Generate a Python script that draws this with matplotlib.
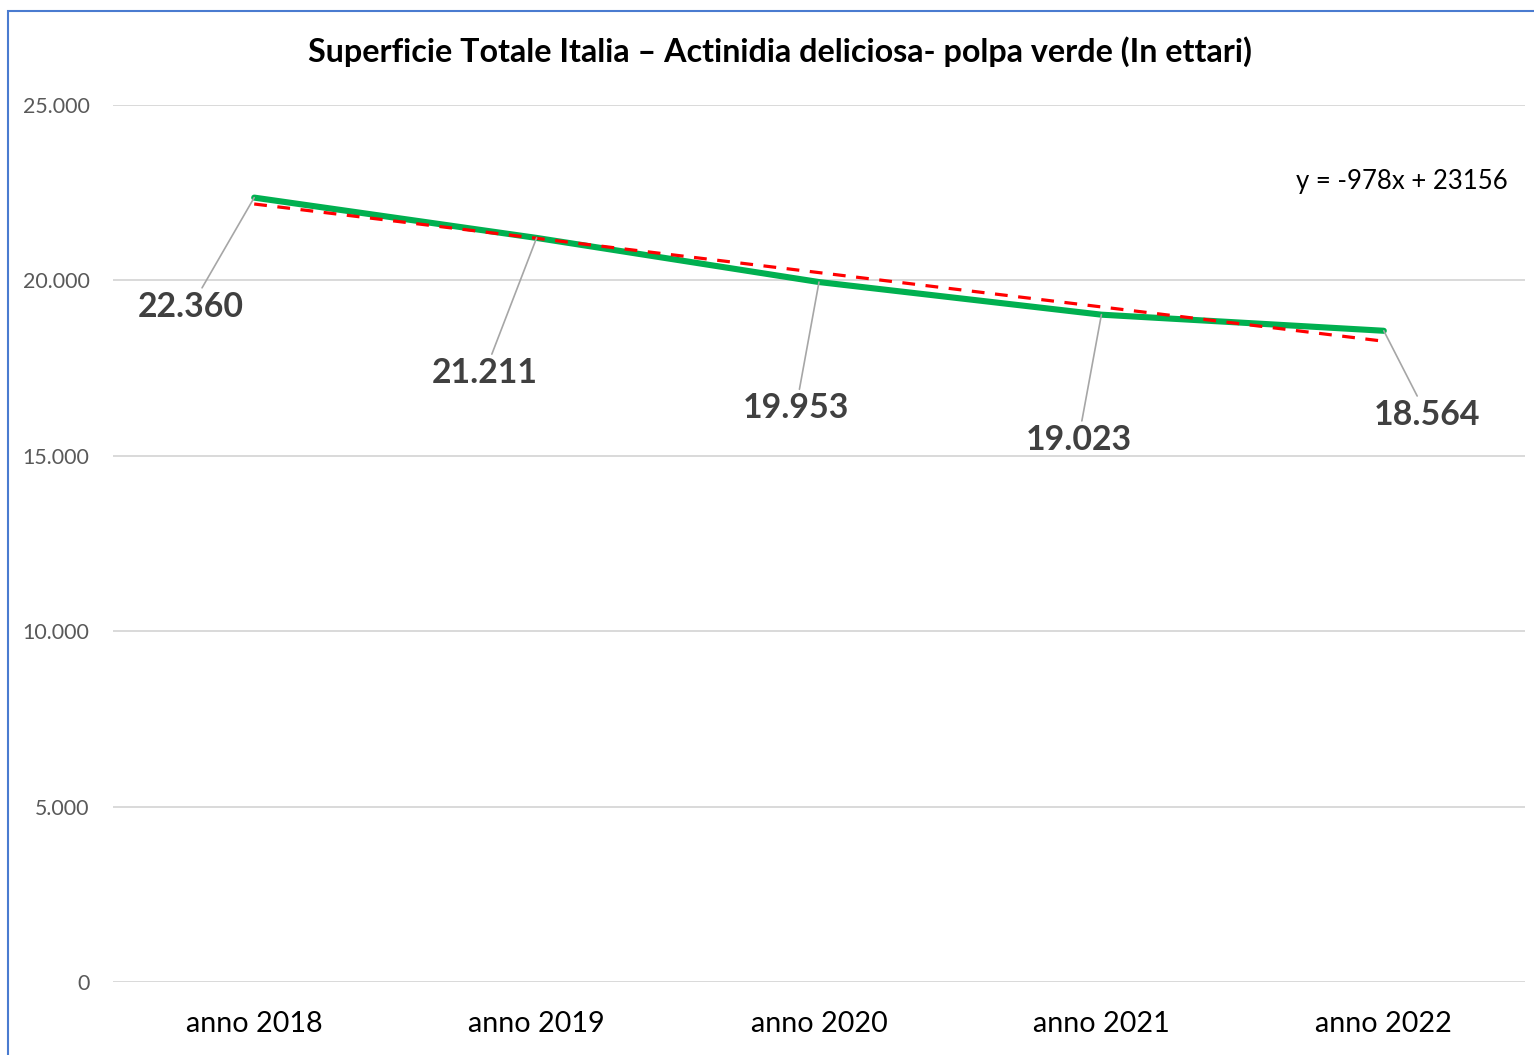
import matplotlib
matplotlib.use("Agg")
import matplotlib.pyplot as plt
from matplotlib.patches import Rectangle
import numpy as np

plt.rcParams['font.family'] = ['Lato', 'DejaVu Sans']

categories = ["anno 2018", "anno 2019", "anno 2020", "anno 2021", "anno 2022"]
values = [22360, 21211, 19953, 19023, 18564]
value_labels = ["22.360", "21.211", "19.953", "19.023", "18.564"]
trend_slope = -978
trend_intercept = 23156
yticks = [0, 5000, 10000, 15000, 20000, 25000]
ytick_labels = ["0", "5.000", "10.000", "15.000", "20.000", "25.000"]

W, H = 1534, 1055
fig = plt.figure(figsize=(W / 100, H / 100), dpi=100)
fig.patch.set_facecolor('white')

# blue chart border
fig.patches.append(Rectangle((7.5 / W, -0.05), 1.2, 1 - 10.5 / H + 0.05,
                             transform=fig.transFigure, fill=False,
                             edgecolor='#4A7BD0', linewidth=1.5))

ax = fig.add_axes([113 / W, 1 - 982 / H, 1412 / W, 877 / H])
x = np.arange(len(categories))
ax.set_xlim(-0.5, len(categories) - 0.5)
ax.set_ylim(0, 25000)

for s in ax.spines.values():
    s.set_visible(False)
ax.set_yticks(yticks)
ax.set_yticklabels(ytick_labels)
ax.set_xticks(x)
ax.set_xticklabels(categories)
ax.tick_params(axis='y', length=0, pad=17, labelsize=15.4, labelcolor='#595959')
ax.tick_params(axis='x', length=0, pad=21, labelsize=20.7, labelcolor='#000000')
ax.grid(axis='y', color='#D9D9D9', linewidth=1.4)
ax.set_axisbelow(True)

ax.plot(x, values, color='#00B050', linewidth=4.4, solid_capstyle='round', zorder=3)
xt = np.arange(1, len(categories) + 1)
trend = trend_slope * xt + trend_intercept
ax.plot(x, trend, color='#FF0000', linewidth=2.3, dashes=(4, 3.3), zorder=4)

offsets = [(-63, -109), (-52, -135), (-23, -126), (-23, -125), (43, -84)]
for xi, v, lab, off in zip(x, values, value_labels, offsets):
    ax.annotate(lab, xy=(xi, v), xytext=off, textcoords='offset pixels',
                ha='center', va='center', fontsize=24.4, fontweight='bold',
                color='#404040',
                arrowprops=dict(arrowstyle='-', color='#A6A6A6', lw=1.2,
                                shrinkA=0, shrinkB=0), zorder=5)

fig.text(1402 / W, 1 - 181 / H, "y = -978x + 23156", ha='center', va='center',
         fontsize=18.5, color='#000000')

fig.text(780 / W, 1 - 52 / H,
         "Superficie Totale Italia \u2013 Actinidia deliciosa- polpa verde (In ettari)",
         ha='center', va='center', fontsize=23.2, fontweight='bold', color='#000000')

fig.savefig("out.png", dpi=100, facecolor='white')
